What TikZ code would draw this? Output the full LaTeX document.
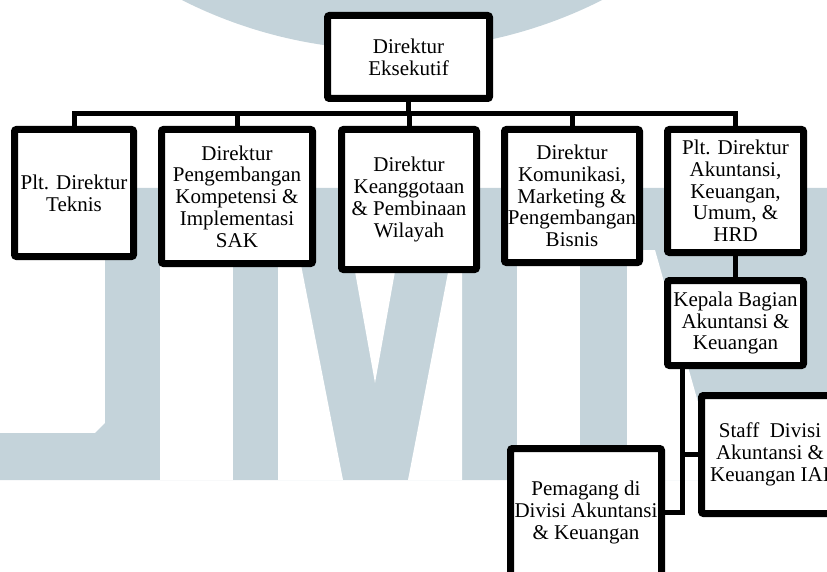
\documentclass[tikz,border=0pt]{standalone}
\usepackage{fontspec}
\setmainfont{Liberation Serif}
\usetikzlibrary{backgrounds}
\usetikzlibrary{calc}

\definecolor{logoblue}{RGB}{196,211,218}

\begin{document}
\begin{tikzpicture}[x=1pt,y=-1pt]

		\tikzstyle{box}  = [draw, line width=7pt, rounded corners=2pt, fill=white, inner sep=0pt, align=center, font=\fontsize{21}{21.7}\selectfont]
		\tikzstyle{link} = [line width=5pt]

		\useasboundingbox (0,0) rectangle (827,572);

		%%Top
		\node [box, minimum width=162pt, minimum height=83pt](exec) at (408.5, 57) {Direktur\\Eksekutif};
		%%Directors
		\node [box, minimum width=119pt, minimum height=127pt](b1) at (74, 193) {Plt. Direktur\\Teknis};
		\node [box, minimum width=151pt, minimum height=134pt](b2) at (237, 196.5) {Direktur\\Pengembangan\\Kompetensi \&\\Implementasi\\SAK};
		\node [box, minimum width=135pt, minimum height=140pt](b3) at (409, 199.5) {Direktur\\Keanggotaan\\\& Pembinaan\\Wilayah};
		\node [box, minimum width=135pt, minimum height=133pt](b4) at (572, 196) {Direktur\\Komunikasi,\\Marketing \&\\Pengembangan\\Bisnis};
		\node [box, minimum width=136pt, minimum height=123pt](b5) at (735.5, 191) {Plt. Direktur\\Akuntansi,\\Keuangan,\\Umum, \&\\HRD};
		%%Accounting
		\node [box, minimum width=136pt, minimum height=85pt](kepala) at (735.5, 323) {Kepala Bagian\\Akuntansi \&\\Keuangan};
		\node [box, minimum width=137pt, minimum height=118pt](staff) at (770, 454.5) {Staff\ \ Divisi\\Akuntansi \&\\Keuangan IAI};
		\node [box, minimum width=151pt, minimum height=128pt](pemagang) at (586, 512.5) {Pemagang di\\Divisi Akuntansi\\\& Keuangan};

		\begin{scope}[on background layer]
		%%Logo in the back
		\fill [logoblue] (392, -416) circle (466pt);
		\fill [logoblue] (105, 188) -- (827, 188) -- (827, 480) -- (0, 480) -- (0, 433) -- (95, 433) -- (105, 423) -- cycle;
		\fill [white] (160, 188) rectangle (233, 480);
		\fill [white] (278, 188) -- (286, 188) -- (343, 480) -- (278, 480) -- cycle;
		\fill [white] (340, 188) -- (410, 188) -- (375, 383) -- cycle;
		\fill [white] (462, 200) -- (462, 480) -- (408, 480) -- cycle;
		\fill [white] (517, 188) rectangle (580, 480);
		\fill [white] (627, 250) -- (655, 250) -- (720, 480) -- (627, 480) -- cycle;

		%%Lines
		\coordinate (bar) at (408.5, 114);
		\coordinate (spine) at (682, 369);
		\draw [link] (exec) -- (exec |- bar);
		\foreach \b in {b1,b2,b3,b4,b5}
			\draw [link] (\b.north) |- (bar);
		\draw [link] (b5)--(kepala);
		\draw [link] (spine) |- (staff.west);
		\draw [link] (spine) |- (pemagang.east);
		\end{scope}

	\end{tikzpicture}
\end{document}
